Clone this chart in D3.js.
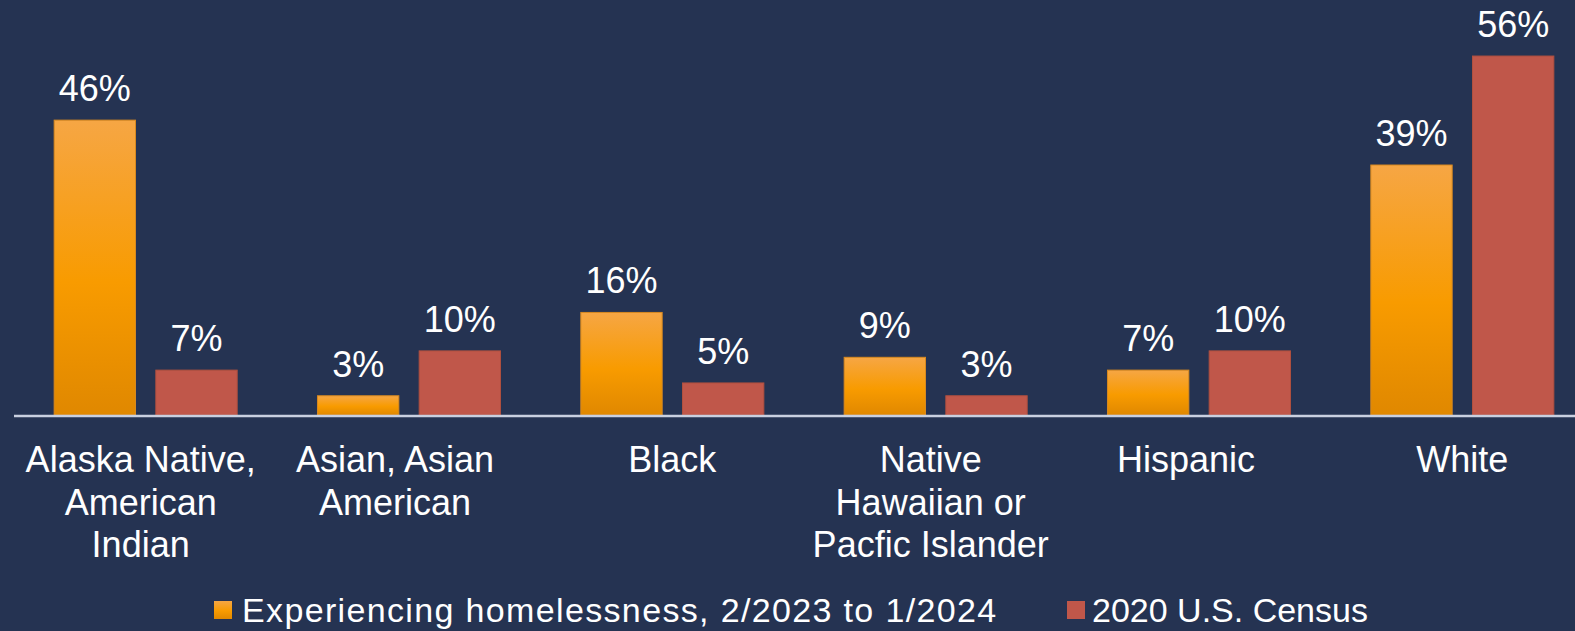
<!DOCTYPE html>
<html lang="en">
<head>
  <meta charset="UTF-8">
  <title>Homelessness by race and ethnicity</title>
  <script src="https://d3js.org/d3.v7.min.js"></script>
  <style>
    html, body { margin: 0; padding: 0; background: #253352; }
    svg { display: block; }
    text { font-family: "Liberation Sans", Arial, sans-serif; fill: #ffffff; }
  </style>
</head>
<body>
<div class="main"></div>
<script>
  let width = 1575;
  let height = 631;

  let categories = ["Alaska Native, American Indian", "Asian, Asian American", "Black",
    "Native Hawaiian or Pacfic Islander", "Hispanic", "White"];
  // line breaks as they appear under the axis
  let categoryLines = [
    ["Alaska Native,", "American", "Indian"],
    ["Asian, Asian", "American"],
    ["Black"],
    ["Native", "Hawaiian or", "Pacfic Islander"],
    ["Hispanic"],
    ["White"]
  ];
  let seriesNames = ["Experiencing homelessness, 2/2023 to 1/2024", "2020 U.S. Census"];
  let homelessValues = [46, 3, 16, 9, 7, 39];
  let censusValues = [7, 10, 5, 3, 10, 56];

  let rows = categories.map((c, i) => ({
    category: c,
    values: [homelessValues[i], censusValues[i]]
  }));

  let baseY = 415;

  let x0 = d3.scaleBand()
          .domain(categories)
          .range([14, 1594])
          .paddingInner(0.305)
          .paddingOuter(0.1525);

  let x1 = d3.scaleBand()
          .domain(seriesNames)
          .range([0, x0.bandwidth()])
          .paddingInner(0.2);

  let y = d3.scaleLinear()
          .domain([0, 60])
          .range([baseY, baseY - 60 * 6.41]);

  let svg = d3.select(".main")
          .append("svg")
          .attr("width", width)
          .attr("height", height);

  svg.append("rect").attr("width", width).attr("height", height).attr("fill", "#253352");

  let defs = svg.append("defs");
  let grad = defs.append("linearGradient")
          .attr("id", "orangeGrad")
          .attr("x1", 0).attr("y1", 0).attr("x2", 0).attr("y2", 1);
  grad.append("stop").attr("offset", "0%").attr("stop-color", "#F6A644");
  grad.append("stop").attr("offset", "55%").attr("stop-color", "#F89B00");
  grad.append("stop").attr("offset", "100%").attr("stop-color", "#E08800");

  let fills = ["url(#orangeGrad)", "#C0574A"];
  let strokes = ["#D8891F", "#B0503F"];

  // bars
  let groups = svg.append("g")
          .selectAll("g")
          .data(rows)
          .join("g")
          .attr("transform", d => `translate(${x0(d.category)},0)`);

  groups.selectAll("rect")
          .data(d => d.values.map((v, i) => ({ series: seriesNames[i], value: v, idx: i })))
          .join("rect")
          .attr("x", d => x1(d.series))
          .attr("y", d => y(d.value))
          .attr("width", x1.bandwidth())
          .attr("height", d => baseY - y(d.value))
          .attr("fill", d => fills[d.idx])
          .attr("stroke", d => strokes[d.idx])
          .attr("stroke-width", 1);

  groups.selectAll("text.val")
          .data(d => d.values.map((v, i) => ({ series: seriesNames[i], value: v })))
          .join("text")
          .attr("class", "val")
          .attr("x", d => x1(d.series) + x1.bandwidth() / 2)
          .attr("y", d => y(d.value) - 19)
          .attr("text-anchor", "middle")
          .style("font-size", "36px")
          .text(d => d.value + "%");

  // x axis
  let xAxis = d3.axisBottom(x0).tickSize(0).tickPadding(0).tickFormat("");
  let axisG = svg.append("g")
          .attr("transform", `translate(0,${baseY + 1})`)
          .call(xAxis);
  axisG.select(".domain")
          .attr("d", `M14,0H${width}`)
          .attr("stroke", "#C9D0E0")
          .attr("stroke-width", 2.5);

  // the source's label boxes sit a little left of some groups
  let labelNudge = [-5, -14, 0, -5, -13, 0];
  axisG.selectAll(".tick").each(function (d, i) {
    let t = d3.select(this).select("text")
            .attr("y", 0)
            .attr("dy", null)
            .attr("text-anchor", "middle")
            .style("font-size", "36px");
    t.selectAll("tspan")
            .data(categoryLines[i])
            .join("tspan")
            .attr("x", labelNudge[i])
            .attr("y", (l, j) => 56 + j * 42.5)
            .text(l => l);
  });

  // legend
  let legendX = [214, 1067];
  let legendSpacing = ["1.35px", "0px"];
  let legend = svg.append("g")
          .selectAll("g")
          .data(seriesNames)
          .join("g")
          .attr("transform", (d, i) => `translate(${legendX[i]},601)`);
  legend.append("rect")
          .attr("width", 18)
          .attr("height", 18)
          .attr("fill", (d, i) => fills[i]);
  legend.append("text")
          .attr("x", (d, i) => i === 0 ? 28 : 25)
          .attr("y", 21)
          .style("font-size", "34px")
          .style("letter-spacing", (d, i) => legendSpacing[i])
          .text(d => d);
</script>
</body>
</html>
